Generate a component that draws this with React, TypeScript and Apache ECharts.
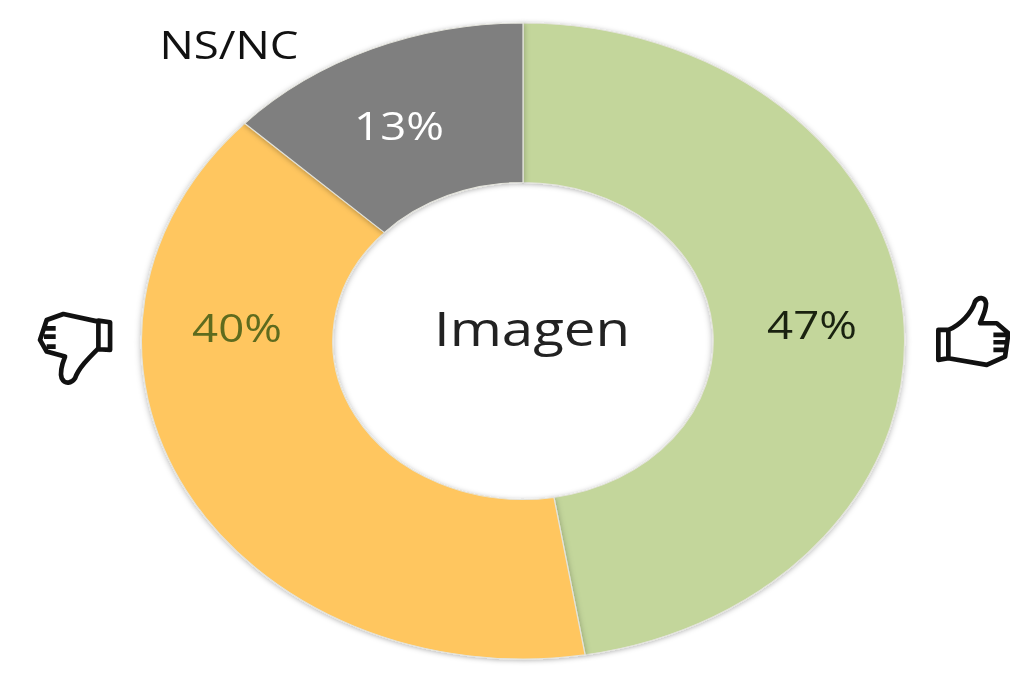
import React, { useEffect, useRef } from "react";
import * as echarts from "echarts";

const categories = ["Positivo", "Negativo", "NS/NC"];
const values = [47.4, 39.6, 13];
const colours = ["#C3D69B", "#FFC65E", "#7F7F7F"];
const labelColours = ["#1A2210", "#5E6B1E", "#FFFFFF"];
const outsideLabel = "NS/NC";
const centreLabel = "Imagen";

const WIDTH = 1010;
const HEIGHT = 674;
const SX = 1.2; // the reference picture is stretched horizontally
const X = (px: number) => px / SX;
const labelCentres = [[812, 324], [237, 327], [399, 125]];

const thumbUp =
  "M85 180 L115 180 L115 265 L85 270 Z M115 180 C150 165 185 130 195 95 C205 80 225 80 228 100 C228 125 215 145 210 160 L260 160 L295 190 L285 260 L230 285 L115 265 Z M250 195 L292 195 M250 217 L290 217 M250 240 L287 240";
const thumbDown =
  "M235 92 L270 97 L270 180 L235 178 Z M235 95 L130 72 L80 90 L60 150 L80 185 L135 200 C125 225 120 250 125 265 C135 285 155 280 165 265 C175 235 205 205 235 175 Z M75 115 L107 115 M72 140 L107 140 M80 170 L107 170";

echarts.graphic.registerShape("thumbUpIcon", echarts.graphic.extendPath(thumbUp, {}));
echarts.graphic.registerShape("thumbDownIcon", echarts.graphic.extendPath(thumbDown, {}));

export default function App() {
  const ref = useRef<HTMLDivElement>(null);
  useEffect(() => {
    document.body.style.margin = "0";
    document.body.style.background = "#fff";
    document.body.style.overflow = "hidden";
    const chart = echarts.init(ref.current!, undefined, { renderer: "svg" });
    const iconStyle = { fill: "none", stroke: "#111", lineWidth: 14, lineJoin: "round" };
    chart.setOption({
      animation: false,
      backgroundColor: "#fff",
      series: [
        {
          type: "pie",
          center: [X(523), 341],
          radius: [158.5, 318],
          startAngle: 90,
          clockwise: true,
          silent: true,
          itemStyle: {
            borderColor: "#E4E4DC",
            borderWidth: 1,
            shadowColor: "rgba(0,0,0,0.3)",
            shadowBlur: 5,
            shadowOffsetY: 1,
          },
          label: {
            show: true,
            position: "inside",
            formatter: (p: any) => `${Math.round(p.value)}%`,
            fontFamily: "Open Sans",
            fontSize: 38,
          },
          labelLine: { show: false },
          labelLayout: (p: any) => ({
            x: X(labelCentres[p.dataIndex][0]),
            y: labelCentres[p.dataIndex][1],
            align: "center",
            verticalAlign: "middle",
          }),
          data: categories.map((name, i) => ({
            name,
            value: values[i],
            itemStyle: { color: colours[i] },
            label: { color: labelColours[i] },
          })),
        },
      ],
      graphic: [
        {
          type: "text",
          x: X(229),
          y: 44,
          style: {
            text: outsideLabel,
            fontFamily: "Open Sans",
            fontSize: 38,
            fill: "#111",
            align: "center",
            verticalAlign: "middle",
          },
        },
        {
          type: "text",
          x: X(532),
          y: 328,
          style: {
            text: centreLabel,
            fontFamily: "Open Sans",
            fontSize: 47,
            fill: "#222",
            align: "center",
            verticalAlign: "middle",
          },
        },
        { type: "thumbUpIcon", x: X(910), y: 270, scaleX: 1 / 3 / SX, scaleY: 1 / 3, style: iconStyle },
        { type: "thumbDownIcon", x: X(20), y: 290, scaleX: 1 / 3 / SX, scaleY: 1 / 3, style: iconStyle },
      ],
    });
    return () => chart.dispose();
  }, []);
  return (
    <div
      ref={ref}
      style={{
        position: "absolute",
        left: 0,
        top: 0,
        width: WIDTH / SX,
        height: HEIGHT,
        transform: `scaleX(${SX})`,
        transformOrigin: "0 0",
      }}
    />
  );
}
